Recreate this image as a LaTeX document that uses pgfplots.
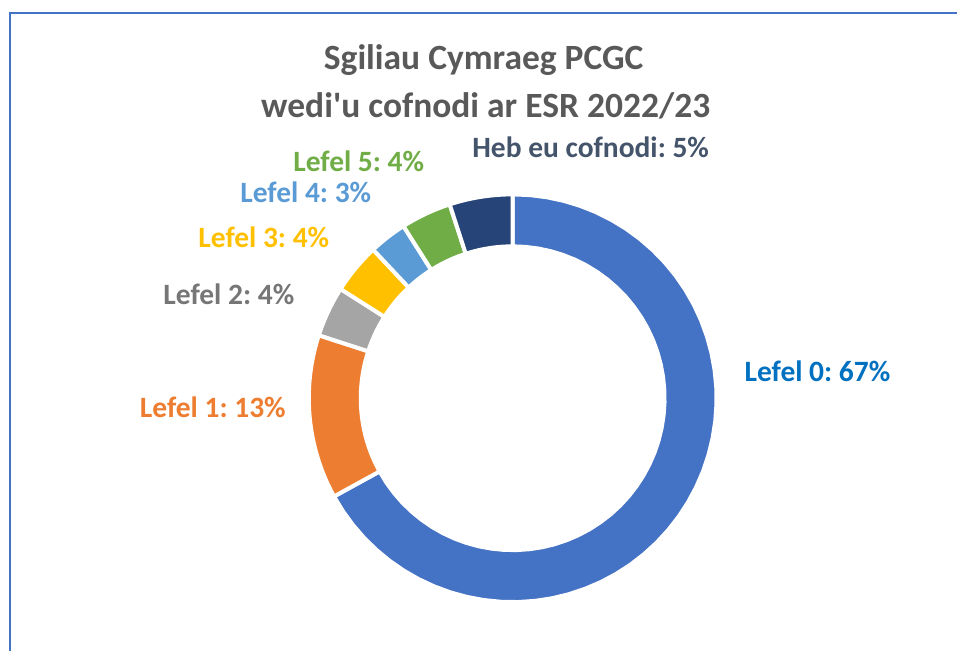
\documentclass[border=0pt]{standalone}
\usepackage{fontspec}
\setmainfont{Carlito}
\usepackage{pgfplots}
\pgfplotsset{compat=1.18}

\definecolor{titlegray}{HTML}{595959}
\definecolor{frameblue}{HTML}{4472C4}
\definecolor{c0}{HTML}{4472C4}
\definecolor{c0lab}{HTML}{0070C0}
\definecolor{c1}{HTML}{ED7D31}
\definecolor{c2}{HTML}{A5A5A5}
\definecolor{c2lab}{HTML}{767676}
\definecolor{c3}{HTML}{FFC000}
\definecolor{c4}{HTML}{5B9BD5}
\definecolor{c5}{HTML}{70AD47}
\definecolor{c6}{HTML}{264478}
\definecolor{c6lab}{HTML}{44546A}

% donut geometry (axis units = px of the reference)
\def\cx{513}
\def\cy{252.5}
\def\Ro{204}
\def\Ri{152}

% \slice{colour}{cumulative start in %}{value in %}
\newcommand{\slice}[3]{%
  \pgfmathsetmacro\aA{90-3.6*#2}%
  \pgfmathsetmacro\aB{90-3.6*(#2+#3)}%
  \addplot[fill=#1, draw=white, line width=4pt, line join=round,
    variable=\t, samples at={0,0.02,...,1,1,2,2.02,...,3,3}]
    ({\cx+(\t<1.5 ? \Ro : \Ri)*cos(\t<1.5 ? \aA+(\aB-\aA)*\t : \aB-(\aB-\aA)*(\t-2))},
     {\cy+(\t<1.5 ? \Ro : \Ri)*sin(\t<1.5 ? \aA+(\aB-\aA)*\t : \aB-(\aB-\aA)*(\t-2))})
    -- cycle;
}

\begin{document}
\frenchspacing
\begin{tikzpicture}
\begin{axis}[
    width=958pt, height=651pt, scale only axis,
    xmin=0, xmax=958, ymin=0, ymax=651,
    hide axis, clip=false,
]
\path (axis cs:0,0) rectangle (axis cs:958,651);
\draw[frameblue, line width=1.2pt] (axis cs:9.8,638) -- (axis cs:958,638);
\draw[frameblue, line width=2pt] (axis cs:9.8,0) -- (axis cs:9.8,638.6);

% slices: Lefel 0..5, Heb eu cofnodi
\slice{c0}{0}{67}
\slice{c1}{67}{13}
\slice{c2}{80}{4}
\slice{c3}{84}{4}
\slice{c4}{88}{3}
\slice{c5}{91}{4}
\slice{c6}{95}{5}

% title
\tikzset{ttl/.style={text=titlegray, font=\fontsize{35.5}{42}\selectfont\bfseries, anchor=base, inner sep=0pt}}
\node[ttl] at (axis cs:484,581) {Sgiliau Cymraeg PCGC};
\node[ttl] at (axis cs:486,533) {wedi\textquotesingle u cofnodi ar ESR 2022/23};

% data labels
\tikzset{lab/.style={font=\fontsize{29.5}{35}\selectfont\bfseries, anchor=base, inner sep=0pt}}
\node[lab, text=c0lab] at (axis cs:818,269) {Lefel 0: 67\%};
\node[lab, text=c1]    at (axis cs:213,233) {Lefel 1: 13\%};
\node[lab, text=c2lab] at (axis cs:229,346) {Lefel 2: 4\%};
\node[lab, text=c3]    at (axis cs:264,403) {Lefel 3: 4\%};
\node[lab, text=c4]    at (axis cs:306,448) {Lefel 4: 3\%};
\node[lab, text=c5]    at (axis cs:359,479) {Lefel 5: 4\%};
\node[lab, text=c6lab] at (axis cs:591,493) {Heb eu cofnodi: 5\%};
\end{axis}
\end{tikzpicture}
\end{document}
